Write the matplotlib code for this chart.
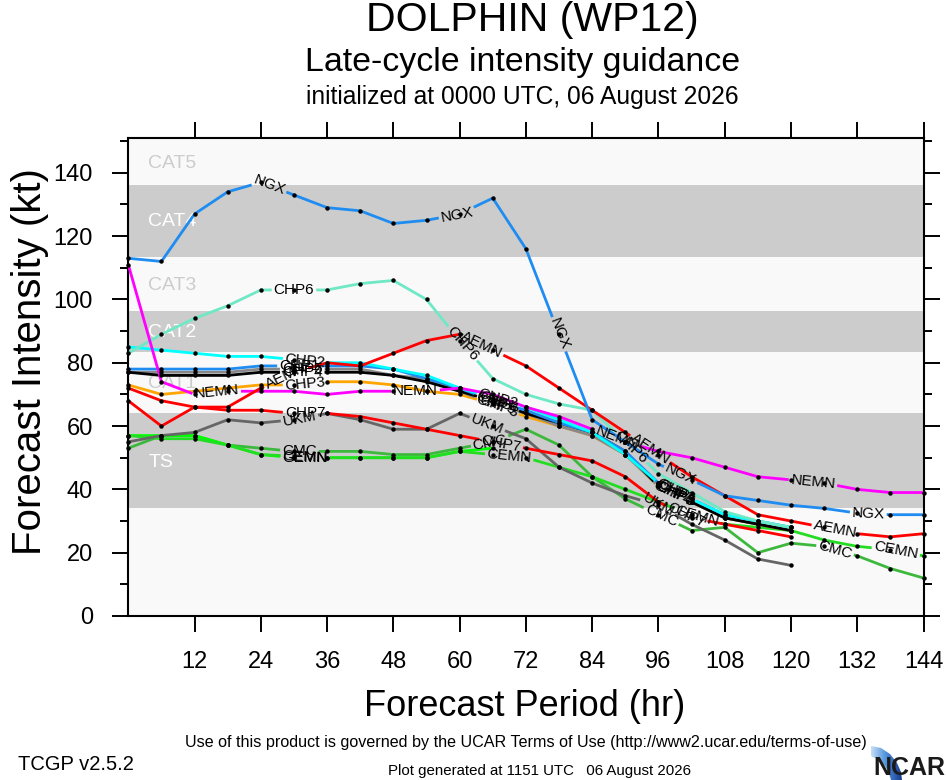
import matplotlib
matplotlib.use("Agg")
import matplotlib.pyplot as plt
from matplotlib.patches import Polygon
from matplotlib.colors import LinearSegmentedColormap
import numpy as np

plt.rcParams['font.family'] = ['Liberation Sans', 'DejaVu Sans']

# forecast hours (every 6 h)
hours = list(range(0, 145, 6))

# intensity guidance (kt)
ngx = [113, 112, 127, 134, 137, 133, 129, 128, 124, 125, 127, 132, 116, 89, 62,
       55, 48, 43, 38, 36.5, 35, 34, 32.5, 32, 32]
aemn = [68, 60, 66, 66, 72, 77, 80, 79, 83, 87, 89, 84, 79, 72, 65,
        58, 51, 44, 38, 32, 30, 28, 26, 25, 26]
nemn = [111, 74, 70, 71, 71, 71, 70, 71, 71, 71, 72, 70, 66, 63, 59,
        55, 52, 50, 47, 44, 43, 42, 40, 39, 39]
chp6 = [83, 89, 94, 98, 103, 103, 103, 105, 106, 100, 87, 75, 70, 67, 65,
        55, 45, 39, 33, 30, 28]
chp2 = [85, 84, 83, 82, 82, 81, 80, 80, 78, 76, 72, 69, 66, 62, 58,
        51, 42, 37, 32, 30, 28]
chp1 = [78, 78, 78, 78, 79, 79, 79, 79, 78, 75, 72, 68, 65, 61, 58,
        52, 42, 37, 32, 30, 28]
chp4 = [77, 76, 76, 76, 77, 77, 77, 77, 76, 74, 71, 68, 64, 61, 58,
        52, 41, 36, 31, 29, 27]
chp5 = [77, 77, 77, 77, 78, 78, 78, 78, 76, 75, 71, 67, 64, 60, 57,
        51, 41, 36, 31, 29, 27]
chp3 = [73, 70, 71, 72, 73, 73, 74, 74, 73, 71, 70, 67, 63, 60, 57,
        51, 41, 36, 31, 29, 27]
chp7 = [72, 68, 66, 65, 65, 64, 64, 63, 61, 59, 57, 55, 53, 51, 49,
        44, 36, 31, 29, 27, 25]
ukm = [55, 57, 58, 62, 61, 62, 64, 62, 59, 59, 64, 60, 56, 47, 42,
       38, 35, 29, 24, 18, 16]
cmc = [53, 57, 57, 54, 53, 52, 52, 52, 51, 51, 53, 55, 59, 54, 44,
       37, 32, 27, 28, 20, 23, 22, 19, 15, 12]
cemn = [57, 56, 56, 54, 51, 50.5, 50, 50, 50, 50, 52, 51, 50, 47, 44,
        40, 36, 32, 29, 28, 27, 24, 22, 21, 19]
gemn = [57, 57, 57, 54, 51, 50, 50, 50, 50, 50, 52, 53]

# (name, values, colour, hours where the line label sits)
models = [
    ("CMC", cmc, "#3cb93c", [31, 65.5, 96.5, 128]),
    ("GEMN", gemn, "#00ff00", [32]),
    ("CEMN", cemn, "#22dd22", [32, 69, 103, 139]),
    ("UKM", ukm, "#666666", [31, 65, 96]),
    ("CHP7", chp7, "#ff0000", [32, 67.5, 101]),
    ("CHP3", chp3, "#ffa500", [32, 67, 99]),
    ("CHP5", chp5, "#888888", [31.5, 66.5, 99]),
    ("CHP4", chp4, "#000000", [31.5, 67, 98.5]),
    ("CHP1", chp1, "#1e8cf0", [31, 66.5, 99.5]),
    ("CHP2", chp2, "#00ffff", [32, 67, 99]),
    ("CHP6", chp6, "#6ee8c5", [30, 60.5, 91]),
    ("NEMN", nemn, "#ff00ff", [16, 52, 88.5, 124]),
    ("AEMN", aemn, "#ff0000", [28.5, 64, 94.5, 128]),
    ("NGX", ngx, "#1e8cf0", [25.5, 59.5, 78, 100, 134]),
]

# intensity category bands
band_gray = [(34, 64), (83.5, 96.5), (113.5, 136)]
cat_names = ["CAT5", "CAT4", "CAT3", "CAT2", "CAT1", "TS"]
cat_y = [143, 124.5, 104.5, 89.5, 73.5, 48.5]
cat_col = ["#cccccc", "white", "#cccccc", "white", "#cccccc", "white"]

W, H = 946, 780
fig = plt.figure(figsize=(W / 100, H / 100), dpi=100)
ax = fig.add_axes([128.3 / W, 1 - 616 / H, (923.5 - 128.3) / W, (616 - 138) / H])
ax.set_xlim(0, 144)
ax.set_ylim(0, 151)
ax.set_facecolor("#f9f9f9")
for lo, hi in band_gray:
    ax.axhspan(lo, hi, color="#cccccc", lw=0, zorder=0.5)
for name, yv, c in zip(cat_names, cat_y, cat_col):
    ax.text(3.6, yv, name, color=c, fontsize=14, va="center", ha="left", zorder=1)

renderer = fig.canvas.get_renderer()
inv = ax.transData.inverted()


def draw_model(name, vals, color, label_hours):
    x = np.array(hours[:len(vals)], float)
    y = np.array(vals, float)
    pts = ax.transData.transform(np.column_stack([x, y]))
    s = np.concatenate([[0.0], np.cumsum(np.hypot(*np.diff(pts, axis=0).T))])
    gaps = []
    for h in label_hours:
        sc = np.interp(h, x, s)
        i = min(np.searchsorted(s, sc, side="right") - 1, len(s) - 2)
        dx, dy = pts[i + 1] - pts[i]
        ang = np.degrees(np.arctan2(dy, dx))
        px = np.interp(sc, s, pts[:, 0])
        py = np.interp(sc, s, pts[:, 1])
        cx, cy = inv.transform((px, py))
        t = ax.text(cx, cy, name, fontsize=11, ha="center", va="center",
                    rotation_mode="anchor", zorder=6)
        w = t.get_window_extent(renderer).width
        t.set_rotation(ang)
        gaps.append((sc - w / 2 - 2, sc + w / 2 + 2))
    # break the line where its labels sit
    keep = [(0.0, s[-1])]
    for a, b in gaps:
        new = []
        for lo, hi in keep:
            if b <= lo or a >= hi:
                new.append((lo, hi))
                continue
            if a > lo:
                new.append((lo, a))
            if b < hi:
                new.append((b, hi))
        keep = new
    for lo, hi in keep:
        ss = np.concatenate([[lo], s[(s > lo) & (s < hi)], [hi]])
        seg = np.column_stack([np.interp(ss, s, pts[:, 0]), np.interp(ss, s, pts[:, 1])])
        d = inv.transform(seg)
        ax.plot(d[:, 0], d[:, 1], color=color, lw=2.0, solid_capstyle="butt", zorder=3)
    ax.plot(x, y, "o", color="black", ms=3.2, mec="none", zorder=5, clip_on=False)


for name, vals, color, lab in models:
    draw_model(name, vals, color, lab)

# axes cosmetics
ax.set_xticks(range(12, 145, 12))
ax.set_xticklabels([str(h) for h in range(12, 145, 12)])
ax.set_yticks(range(0, 141, 20))
ax.set_yticks(range(10, 151, 20), minor=True)
ax.tick_params(axis="both", which="major", direction="out", length=11.5, width=1.4,
               labelsize=17, top=True, right=True, pad=14)
ax.tick_params(axis="y", which="minor", direction="out", length=5.8, width=1.4, right=True)
for sp in ax.spines.values():
    sp.set_linewidth(1.5)

fig.text(532 / W, 1 - 20 / H, "DOLPHIN (WP12)", fontsize=29.5, ha="center", va="center")
fig.text(523 / W, 1 - 62 / H, "Late-cycle intensity guidance", fontsize=24.4, ha="center", va="center")
fig.text(522 / W, 1 - 97 / H, "initialized at 0000 UTC, 06 August 2026", fontsize=17.7,
         ha="center", va="center")
fig.text(30 / W, 1 - 362 / H, "Forecast Intensity (kt)", fontsize=29, rotation=90,
         ha="center", va="center")
fig.text(525 / W, 1 - 706 / H, "Forecast Period (hr)", fontsize=26, ha="center", va="center")
fig.text(526 / W, 1 - 742 / H,
         "Use of this product is governed by the UCAR Terms of Use (http://www2.ucar.edu/terms-of-use)",
         fontsize=11.6, ha="center", va="center")
fig.text(18 / W, 1 - 765 / H, "TCGP v2.5.2", fontsize=14.5, ha="left", va="center")
fig.text(539 / W, 1 - 771 / H, "Plot generated at 1151 UTC   06 August 2026", fontsize=10.8,
         ha="center", va="center")

# NCAR logo: blue swoosh + lettering
lax = fig.add_axes([870 / W, 0, 76 / W, 34 / H])
lax.set_xlim(0, 76)
lax.set_ylim(0, 34)
lax.axis("off")
grad = np.linspace(0, 1, 64).reshape(1, -1)
cmap = LinearSegmentedColormap.from_list("ncar", ["#cfe3f7", "#4f93dc", "#173a8c"])
img = lax.imshow(grad, extent=(0, 32, 0, 34), cmap=cmap, aspect="auto", zorder=1)
sw = Polygon([(1, 34), (11, 32), (20, 26), (27, 17), (31, 8), (32, 0), (21, 0), (19, 7),
              (15, 14), (9, 20), (1, 24)], closed=True, transform=lax.transData)
img.set_clip_path(sw)
lax.text(75.5, 12, "NCAR", fontsize=18, fontweight="bold", color="#1a1a1a", ha="right",
         va="center", zorder=2, family=["Liberation Sans Narrow", "Liberation Sans"])

fig.savefig("out.png", dpi=100)
